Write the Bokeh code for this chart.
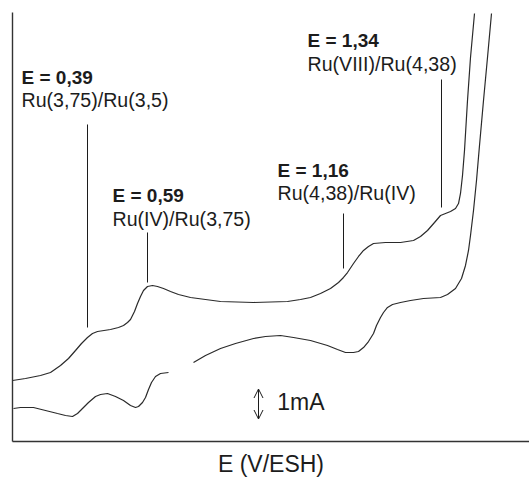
from bokeh.plotting import figure
from bokeh.models import Range1d, FixedTicker, ColumnDataSource, Arrow, OpenHead
from bokeh.core.properties import value
from bokeh.embed import file_html
from bokeh.resources import INLINE

nan = float("nan")

# Forward (anodic) sweep: potential E (V/ESH) and current I (mA)
e_fwd = [0.200, 0.2325, 0.270, 0.295, 0.320, 0.340, 0.3575, 0.3725, 0.3875, 0.400,
         0.4125, 0.445, 0.465, 0.4775, 0.4875, 0.495, 0.505, 0.5125, 0.520, 0.5275,
         0.5375, 0.550, 0.5625, 0.5775, 0.595, 0.615, 0.645, 0.6825, 0.720, 0.8025,
         0.8875, 0.920, 0.945, 0.970, 0.995, 1.015, 1.0275, 1.0375, 1.0525, 1.065,
         1.0775, 1.090, 1.1025, 1.1325, 1.170, 1.2025, 1.220, 1.2375, 1.255, 1.270,
         1.2825, 1.295, 1.3075, 1.315, 1.320, 1.325, 1.330, 1.3375, 1.345, 1.355]
i_fwd = [2.033, 2.100, 2.200, 2.300, 2.533, 2.767, 3.033, 3.267, 3.467, 3.600,
         3.667, 3.733, 3.800, 3.867, 3.967, 4.067, 4.333, 4.600, 4.833, 5.033,
         5.167, 5.200, 5.167, 5.100, 5.000, 4.900, 4.800, 4.733, 4.667, 4.633,
         4.667, 4.733, 4.800, 4.933, 5.100, 5.300, 5.467, 5.633, 5.933, 6.167,
         6.367, 6.500, 6.600, 6.633, 6.633, 6.700, 6.833, 7.033, 7.300, 7.533,
         7.600, 7.667, 7.767, 7.933, 8.267, 8.867, 9.700, 11.367, 12.800, 14.267]

# Reverse (cathodic) sweep; NaN marks the break in the recorded trace
e_rev = [1.3975, 1.3875, 1.3775, 1.3675, 1.360, 1.3525, 1.345, 1.340, 1.3325, 1.3225,
         1.3075, 1.2875, 1.270, 1.2275, 1.195, 1.170, 1.150, 1.1375, 1.1275, 1.120,
         1.110, 1.1025, 1.090, 1.0775, 1.065, 1.0525, 1.0325, 1.0125, 0.9875, 0.945,
         0.9025, 0.870, 0.8325, 0.8025, 0.7575, 0.720, 0.6825, 0.6525, nan,
         0.590, 0.570, 0.5575, 0.5475, 0.540, 0.5325, 0.525, 0.515, 0.5075, 0.495,
         0.4775, 0.4575, 0.4375, 0.420, 0.4075, 0.390, 0.3775, 0.3625, 0.350, 0.3325,
         0.3125, 0.2825, 0.2525, 0.220, 0.2025]
i_rev = [14.267, 12.800, 11.367, 9.867, 8.700, 7.700, 6.867, 6.367, 5.867, 5.433,
         5.100, 4.900, 4.800, 4.767, 4.700, 4.633, 4.567, 4.467, 4.300, 4.133,
         3.867, 3.600, 3.333, 3.133, 3.000, 2.967, 2.967, 3.067, 3.200, 3.367,
         3.467, 3.533, 3.500, 3.433, 3.267, 3.100, 2.867, 2.633, nan,
         2.300, 2.267, 2.167, 1.967, 1.733, 1.467, 1.300, 1.167, 1.133, 1.200,
         1.367, 1.500, 1.600, 1.567, 1.500, 1.300, 1.133, 0.933, 0.833, 0.867,
         0.933, 1.033, 1.133, 1.133, 1.100]

# Redox couples and where their leader lines touch the voltammogram
couple_potential = ["E = 0,39", "E = 0,59", "E = 1,16", "E = 1,34"]
couple_name = ["Ru(3,75)/Ru(3,5)", "Ru(IV)/Ru(3,75)", "Ru(4,38)/Ru(IV)", "Ru(VIII)/Ru(4,38)"]
leader_e = [0.3875, 0.5375, 1.0275, 1.2725]
leader_top = [10.567, 6.967, 7.600, 12.067]
leader_bottom = [3.800, 5.300, 5.767, 7.800]

# Text placement for each couple's caption (left edge, upper and lower line)
caption_x = [0.2225, 0.450, 0.8625, 0.9375]
caption_y1 = [12.133, 8.200, 9.033, 13.367]
caption_y2 = [11.367, 7.433, 8.267, 12.600]

# Current scale bar: 1 mA
scale_e = 0.815
scale_i0 = 0.75
scale_len = 1.0

FONT = "Liberation Sans"
INK = "#1c1c1c"

p = figure(width=529, height=481, output_backend="svg", toolbar_location=None,
           x_range=Range1d(0.2, 1.4925), y_range=Range1d(0, 14.3),
           min_border_left=12, min_border_right=0, min_border_top=12, min_border_bottom=40)
p.outline_line_color = None
p.grid.visible = False
p.background_fill_color = "white"
p.border_fill_color = "white"

for ax in (p.xaxis[0], p.yaxis[0]):
    ax.ticker = FixedTicker(ticks=[])
    ax.major_tick_line_color = None
    ax.minor_tick_line_color = None
    ax.major_tick_out = 0
    ax.minor_tick_out = 0
    ax.major_label_standoff = 0
    ax.major_label_text_font_size = "0px"
    ax.axis_line_color = "#333333"
    ax.axis_line_width = 1.4

p.xaxis.axis_label = "E (V/ESH)"
p.xaxis.axis_label_text_font = FONT
p.xaxis.axis_label_text_font_style = "normal"
p.xaxis.axis_label_text_font_size = "23px"
p.xaxis.axis_label_text_color = INK
p.xaxis.axis_label_standoff = 9

# Voltammogram
p.line(e_fwd, i_fwd, line_color="#2a2a2a", line_width=1.2)
p.line(e_rev, i_rev, line_color="#2a2a2a", line_width=1.2)

# Leader lines
p.segment(x0=leader_e, y0=leader_bottom, x1=leader_e, y1=leader_top,
          line_color=INK, line_width=1)

src = ColumnDataSource(dict(x=caption_x, y1=caption_y1, y2=caption_y2,
                            pot=couple_potential, name=couple_name))
p.text(x="x", y="y1", text="pot", source=src, text_font=value(FONT),
       text_font_style="bold", text_font_size="19px", text_color=INK,
       text_align="left", text_baseline="middle")
p.text(x="x", y="y2", text="name", source=src, text_font=value(FONT),
       text_font_size="19.6px", text_color=INK,
       text_align="left", text_baseline="middle")

# 1 mA scale bar
p.add_layout(Arrow(x_start=scale_e, y_start=scale_i0, x_end=scale_e, y_end=scale_i0 + scale_len,
                   start=OpenHead(size=9, line_width=1, line_color=INK),
                   end=OpenHead(size=9, line_width=1, line_color=INK),
                   line_width=1, line_color=INK))
p.text(x=[0.862], y=[scale_i0 + scale_len / 2 + 0.08], text=["1mA"], text_font=value(FONT),
       text_font_size="23px", text_color=INK, text_align="left", text_baseline="middle")

open("out.html", "w").write(file_html(p, INLINE))
